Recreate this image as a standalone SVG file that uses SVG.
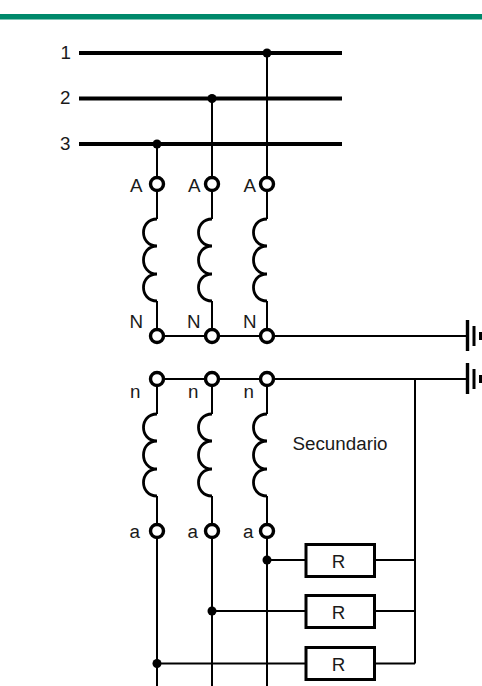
<svg xmlns="http://www.w3.org/2000/svg" width="482" height="686" viewBox="0 0 482 686">
<style>
.t{font-family:"Liberation Sans",Arial,sans-serif;font-size:18.8px;fill:#1a1a1a}
.w{fill:none;stroke:#000;stroke-width:2}
.bus{fill:none;stroke:#000;stroke-width:4}
.coil{fill:none;stroke:#000;stroke-width:2.8}
.o{fill:#fff;stroke:#000;stroke-width:3.4}
.d{fill:#000}
.r{fill:#fff;stroke:#000;stroke-width:3}
.g{stroke:#000;fill:none}
</style>
<defs>
<path id="c" d="M157 219C139 219 139 246 157 246C139 246 139 274 157 274C139 274 139 301 157 301" class="coil"/>
<g id="gnd"><path class="g" stroke-width="3.4" d="M467.500 0V31"/><path class="g" stroke-width="3" d="M474 6V26"/><path class="g" stroke-width="3" d="M480.500 12V20"/></g>
</defs>
<rect x="0" y="14" width="482" height="5.500" fill="#00896b"/>
<g id="connectors">
<path class="bus" d="M79 53H342M79 98.500H342M79 144H342"/>
<path class="w" d="M267 53V219M212 98.500V219M157 144V219M157 301V336M212 301V336M267 301V336"/>
<path class="w" d="M157 336H467M157 379H467M415 379V663.500M157 379V414M212 379V414M267 379V414"/>
<path class="w" d="M157 496V686M212 496V686M267 496V686M267 560H305M212 611H305M157 663.500H305M375 560H415M375 611H415M375 663.500H415"/>
</g>
<use href="#c"/><use href="#c" x="55"/><use href="#c" x="110"/>
<use href="#c" y="195"/><use href="#c" x="55" y="195"/><use href="#c" x="110" y="195"/>
<g id="gnd1"><use href="#gnd" y="320"/></g>
<g id="gnd2"><use href="#gnd" y="363"/></g>
<g id="dots"><circle class="d" cx="267" cy="53" r="4.500"/><circle class="d" cx="212" cy="98.500" r="4.500"/><circle class="d" cx="157" cy="144" r="4.500"/><circle class="d" cx="267" cy="560" r="4.500"/><circle class="d" cx="212" cy="611" r="4.500"/><circle class="d" cx="157" cy="663.500" r="4.500"/></g>
<g id="terminals">
<circle class="o" cx="157" cy="184" r="6.500"/><circle class="o" cx="212" cy="184" r="6.500"/><circle class="o" cx="267" cy="184" r="6.500"/>
<circle class="o" cx="157" cy="336" r="6.500"/><circle class="o" cx="212" cy="336" r="6.500"/><circle class="o" cx="267" cy="336" r="6.500"/>
<circle class="o" cx="157" cy="379" r="6.500"/><circle class="o" cx="212" cy="379" r="6.500"/><circle class="o" cx="267" cy="379" r="6.500"/>
<circle class="o" cx="157" cy="531" r="6.500"/><circle class="o" cx="212" cy="531" r="6.500"/><circle class="o" cx="267" cy="531" r="6.500"/>
</g>
<g id="R1"><rect class="r" x="306" y="544.500" width="68.500" height="32"/><text class="t" x="338.500" y="568" text-anchor="middle">R</text></g>
<g id="R2"><rect class="r" x="306" y="595.500" width="68.500" height="32"/><text class="t" x="338.500" y="619" text-anchor="middle">R</text></g>
<g id="R3"><rect class="r" x="306" y="647.500" width="68.500" height="32"/><text class="t" x="338.500" y="671" text-anchor="middle">R</text></g>
<g id="labels">
<text class="t" x="60.500" y="58.500">1</text><text class="t" x="60" y="104">2</text><text class="t" x="60" y="150">3</text>
<text class="t" x="130" y="191.500">A</text><text class="t" x="188" y="191.500">A</text><text class="t" x="243.500" y="191.500">A</text>
<text class="t" x="129.500" y="328">N</text><text class="t" x="187" y="328">N</text><text class="t" x="243" y="328">N</text>
<text class="t" x="130" y="398">n</text><text class="t" x="188" y="398">n</text><text class="t" x="243.500" y="398">n</text>
<text class="t" x="129.500" y="537.500">a</text><text class="t" x="187.500" y="537.500">a</text><text class="t" x="243" y="537.500">a</text>
<text class="t" x="292.500" y="449.500">Secundario</text>
</g>
</svg>
